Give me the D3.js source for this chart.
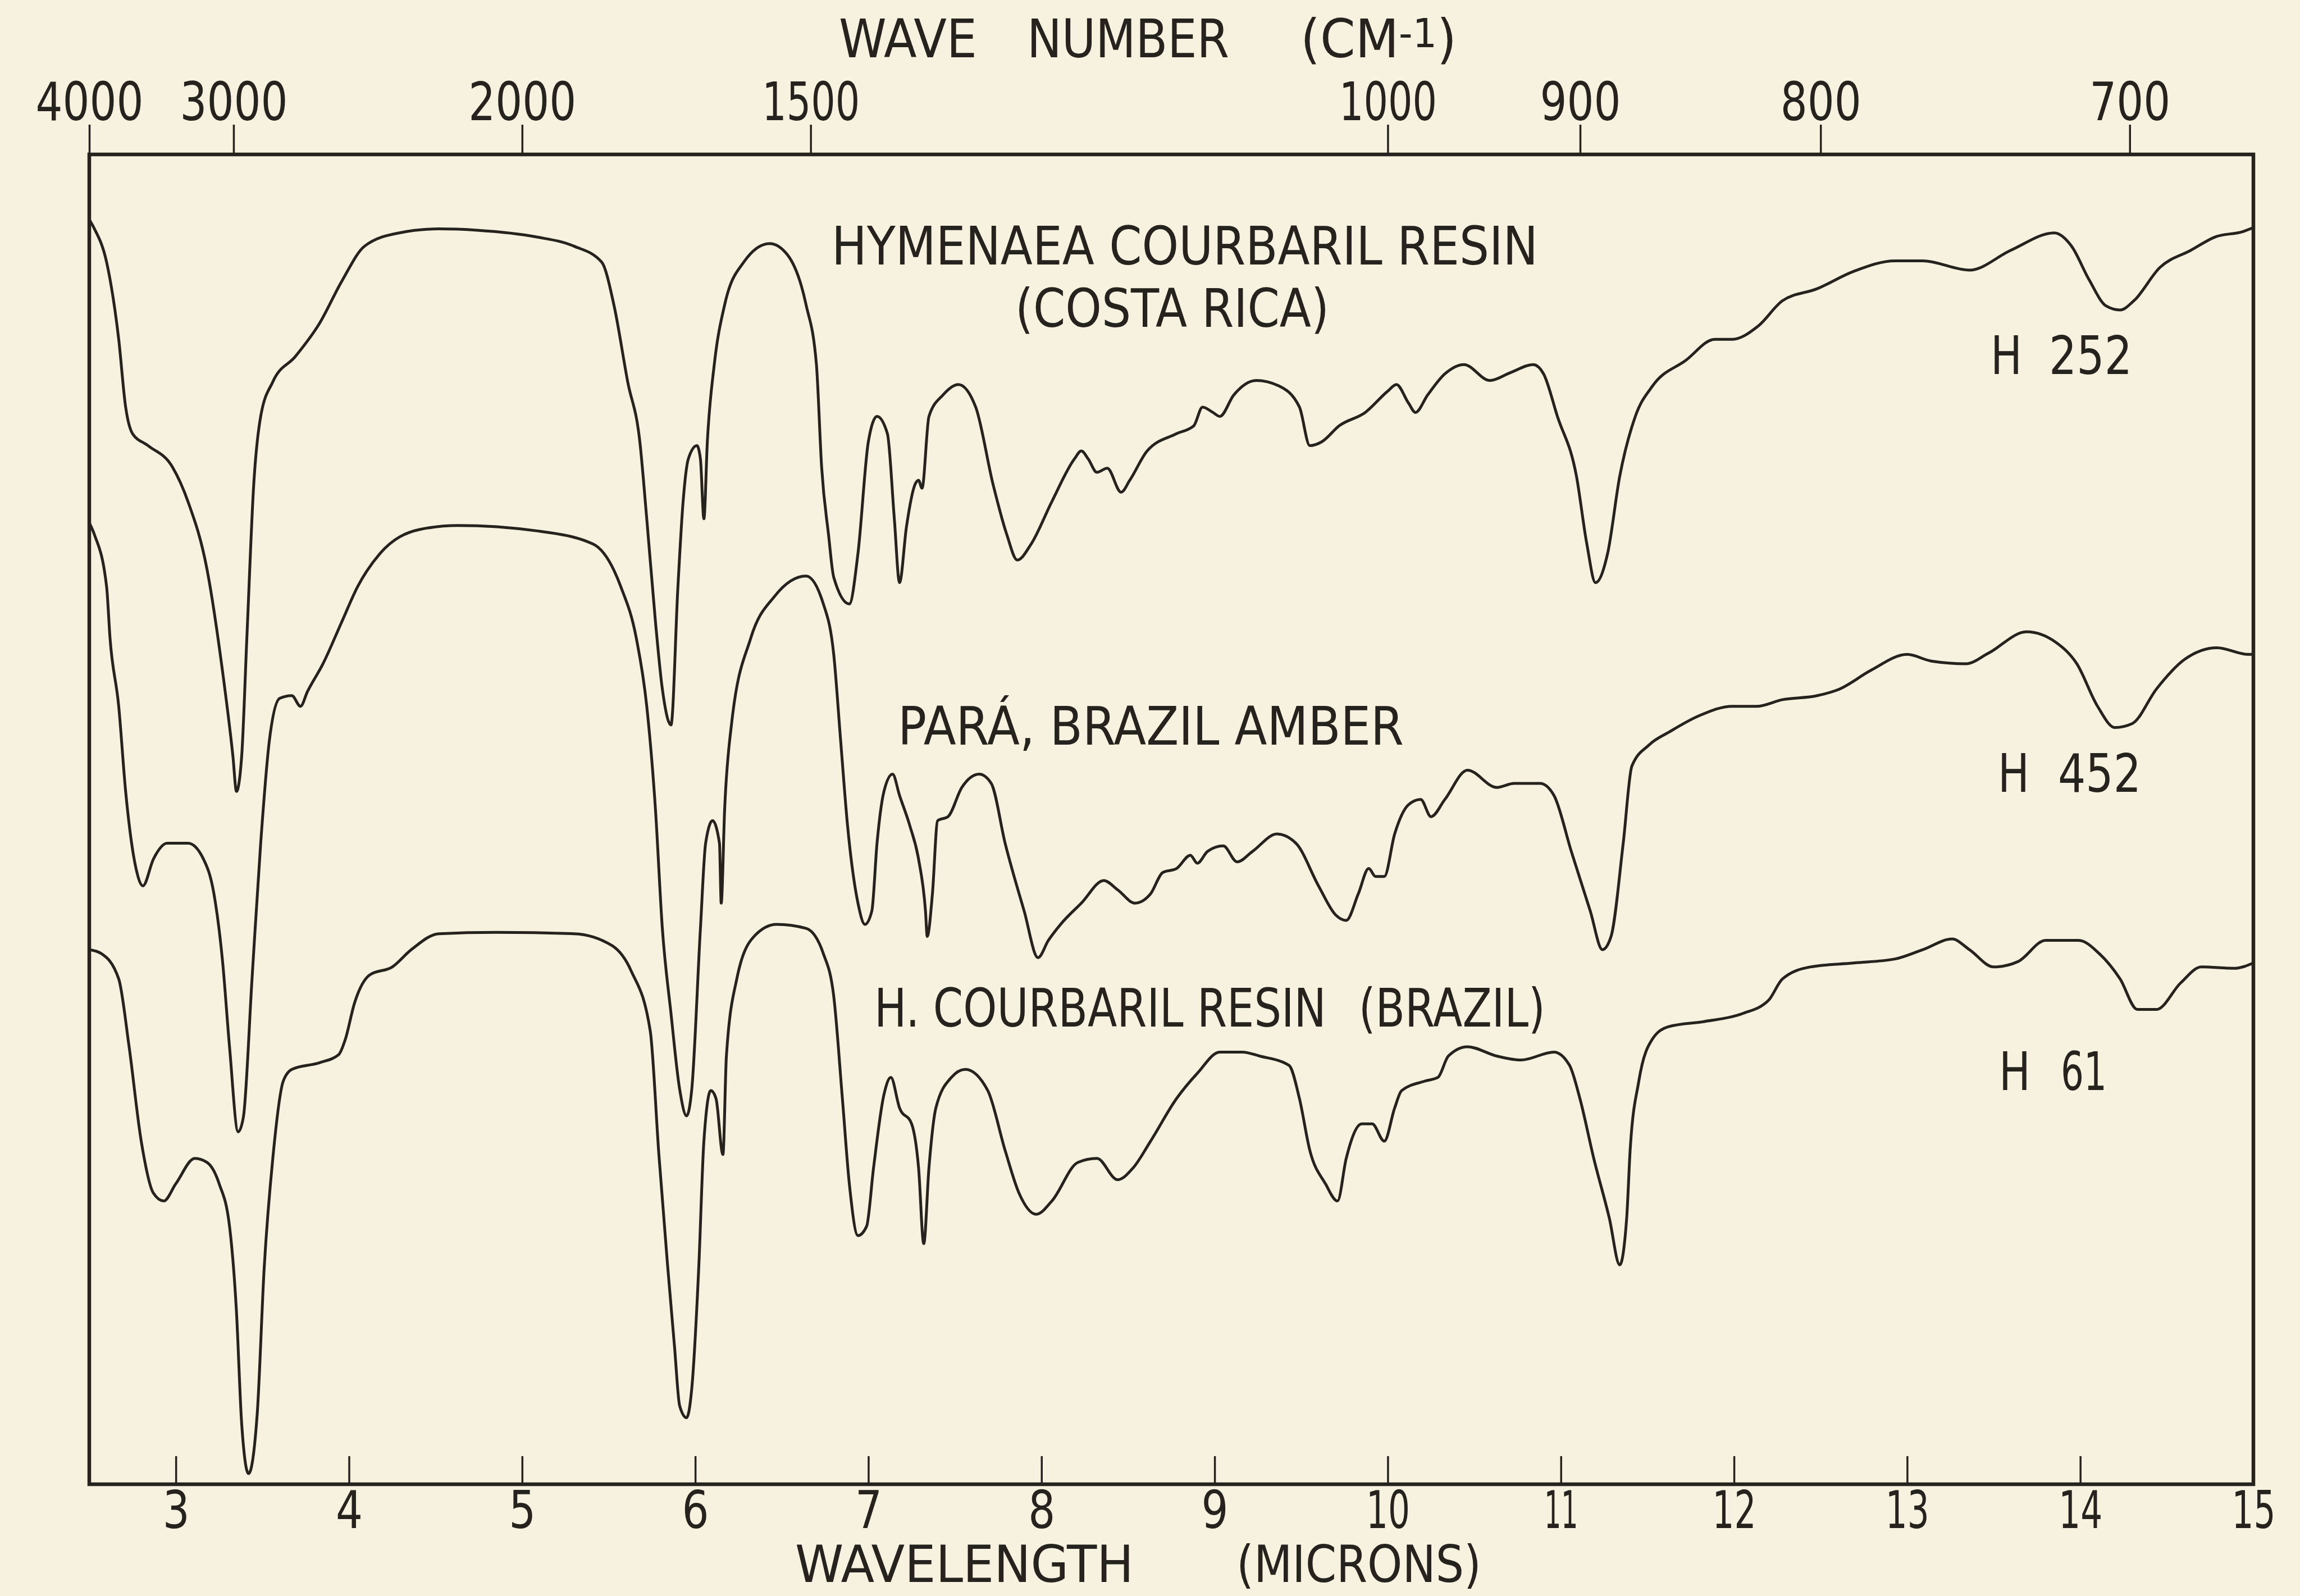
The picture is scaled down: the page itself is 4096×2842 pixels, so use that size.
<!DOCTYPE html>
<html>
<head>
<meta charset="utf-8">
<script src="https://cdn.jsdelivr.net/npm/d3@7"></script>
<style>
  html, body { margin: 0; padding: 0; background: #f6f2df; }
  svg { display: block; }
  text { font-family: "DejaVu Sans", sans-serif; fill: #26221e; }
</style>
</head>
<body>
<svg id="chart" width="4096" height="2842"></svg>
<script>
// tick values
const wavelengthTicks = [3, 4, 5, 6, 7, 8, 9, 10, 11, 12, 13, 14, 15];
const waveNumberTicks = [4000, 3000, 2000, 1500, 1000, 900, 800, 700];

// spectra: [wavelength (microns), transmittance (0 = bottom of frame, 100 = top)]
const h252 = [
  [2.50, 95.1], [2.53, 94.4], [2.60, 91.9], [2.67, 86.1], [2.71, 81.0], [2.75, 79.0], [2.84, 78.1], [2.98, 76.5],
  [3.07, 73.9], [3.18, 68.8], [3.27, 61.1], [3.33, 54.7], [3.35, 52.1], [3.38, 54.7], [3.41, 63.6], [3.45, 75.2],
  [3.49, 80.3], [3.56, 82.9], [3.69, 84.8], [3.83, 87.3], [3.96, 90.5], [4.09, 93.1], [4.29, 94.1], [4.52, 94.4],
  [4.74, 94.3], [5.08, 93.8], [5.30, 93.1], [5.46, 91.9], [5.53, 88.7], [5.61, 82.9], [5.68, 78.4], [5.72, 72.6],
  [5.77, 64.9], [5.81, 59.8], [5.86, 57.1], [5.90, 67.5], [5.93, 73.9], [5.96, 77.1], [6.01, 78.1], [6.03, 77.1],
  [6.05, 72.6], [6.07, 78.4], [6.11, 84.2], [6.17, 88.7], [6.28, 91.9], [6.43, 93.3], [6.53, 92.5], [6.64, 88.7],
  [6.70, 84.2], [6.73, 76.5], [6.77, 71.4], [6.80, 68.2], [6.89, 66.2], [6.94, 70.0], [7.00, 78.4], [7.05, 80.3],
  [7.11, 79.0], [7.15, 72.6], [7.18, 67.8], [7.22, 72.0], [7.27, 75.2], [7.29, 75.5], [7.31, 74.9], [7.35, 80.3],
  [7.43, 81.9], [7.52, 82.7], [7.62, 81.0], [7.72, 75.2], [7.80, 71.4], [7.86, 69.5], [7.94, 70.7], [8.06, 73.9],
  [8.19, 77.1], [8.23, 77.7], [8.27, 77.1], [8.32, 76.1], [8.38, 76.4], [8.46, 74.6], [8.51, 75.5], [8.61, 77.7],
  [8.78, 79.0], [8.88, 79.6], [8.93, 81.0], [8.99, 80.6], [9.03, 80.3], [9.11, 81.9], [9.24, 83.0], [9.37, 82.6],
  [9.49, 81.0], [9.55, 78.1], [9.62, 78.4], [9.72, 79.6], [9.87, 80.6], [10.00, 82.2], [10.05, 82.7], [10.12, 81.3],
  [10.16, 80.6], [10.23, 81.9], [10.33, 83.5], [10.44, 84.2], [10.59, 83.0], [10.71, 83.6], [10.84, 84.2], [10.90, 83.5],
  [10.98, 80.3], [11.09, 75.8], [11.15, 70.7], [11.20, 67.8], [11.27, 70.0], [11.34, 75.8], [11.43, 80.3], [11.53, 82.6],
  [11.72, 84.5], [11.89, 86.1], [11.99, 86.1], [12.14, 87.1], [12.28, 89.0], [12.48, 89.9], [12.69, 91.2], [12.93, 92.0],
  [13.09, 92.0], [13.36, 91.3], [13.60, 92.8], [13.85, 94.1], [13.95, 93.1], [14.05, 90.6], [14.15, 88.6], [14.23, 88.3],
  [14.31, 89.0], [14.46, 91.5], [14.64, 92.8], [14.78, 93.8], [14.94, 94.2], [15.00, 94.5]
];

const h452 = [
  [2.50, 72.3], [2.53, 71.4], [2.60, 67.5], [2.62, 63.6], [2.67, 58.5], [2.71, 52.1], [2.77, 46.3], [2.81, 45.0],
  [2.87, 47.0], [2.95, 48.2], [3.07, 48.2], [3.16, 47.0], [3.22, 44.4], [3.27, 39.3], [3.31, 32.9], [3.36, 26.5],
  [3.39, 27.6], [3.44, 38.0], [3.49, 48.2], [3.54, 55.9], [3.60, 59.1], [3.67, 59.3], [3.72, 58.5], [3.76, 59.6],
  [3.85, 61.7], [3.96, 64.9], [4.05, 67.5], [4.18, 70.0], [4.41, 71.8], [4.63, 72.1], [5.08, 71.7], [5.41, 70.7],
  [5.57, 67.5], [5.66, 63.6], [5.72, 58.5], [5.77, 50.8], [5.81, 41.8], [5.86, 35.4], [5.91, 29.7], [5.95, 27.7],
  [5.98, 29.7], [6.03, 41.8], [6.06, 48.2], [6.10, 49.9], [6.14, 48.2], [6.15, 43.7], [6.17, 50.8], [6.21, 57.2],
  [6.32, 63.6], [6.46, 66.8], [6.64, 68.3], [6.74, 66.2], [6.80, 62.4], [6.84, 55.9], [6.88, 49.5], [6.94, 43.7],
  [6.98, 42.1], [7.02, 43.1], [7.05, 48.2], [7.09, 52.1], [7.14, 53.4], [7.18, 51.8], [7.24, 49.5], [7.29, 47.0],
  [7.33, 43.1], [7.34, 41.2], [7.37, 44.4], [7.40, 49.9], [7.46, 50.2], [7.54, 52.4], [7.64, 53.4], [7.71, 52.7],
  [7.79, 48.2], [7.90, 43.1], [7.98, 39.6], [8.04, 40.9], [8.11, 42.1], [8.23, 43.7], [8.36, 45.4], [8.44, 44.7],
  [8.54, 43.7], [8.63, 44.4], [8.70, 46.0], [8.78, 46.3], [8.86, 47.3], [8.90, 46.7], [8.96, 47.6], [9.05, 48.0],
  [9.13, 46.8], [9.22, 47.6], [9.36, 48.9], [9.47, 48.2], [9.60, 45.0], [9.70, 42.8], [9.76, 42.4], [9.83, 44.4],
  [9.89, 46.3], [9.93, 45.7], [9.98, 45.7], [10.04, 48.9], [10.12, 51.1], [10.19, 51.5], [10.25, 50.2], [10.33, 51.5],
  [10.46, 53.7], [10.63, 52.4], [10.73, 52.7], [10.88, 52.7], [10.96, 51.8], [11.06, 47.6], [11.17, 43.1], [11.24, 40.2],
  [11.29, 41.2], [11.36, 48.2], [11.41, 54.0], [11.51, 55.6], [11.63, 56.6], [11.80, 57.8], [11.99, 58.5], [12.13, 58.5],
  [12.28, 59.0], [12.48, 59.3], [12.61, 59.8], [12.79, 61.2], [13.00, 62.4], [13.14, 61.9], [13.34, 61.7], [13.47, 62.5],
  [13.69, 64.1], [13.86, 63.3], [13.98, 61.7], [14.10, 58.5], [14.20, 56.9], [14.30, 57.2], [14.44, 59.8], [14.60, 62.0],
  [14.79, 62.9], [14.97, 62.4], [15.00, 62.4]
];

const h61 = [
  [2.50, 40.2], [2.57, 39.9], [2.67, 38.0], [2.73, 32.9], [2.80, 25.8], [2.87, 21.9], [2.93, 21.3], [3.00, 22.6],
  [3.11, 24.5], [3.18, 24.2], [3.25, 22.6], [3.31, 19.4], [3.35, 13.0], [3.38, 4.6], [3.42, 0.8], [3.47, 5.3],
  [3.51, 16.2], [3.56, 24.5], [3.62, 30.3], [3.67, 31.2], [3.83, 31.7], [3.94, 32.3], [3.98, 33.5], [4.03, 36.1],
  [4.12, 38.3], [4.25, 38.9], [4.36, 40.2], [4.52, 41.4], [4.85, 41.5], [5.30, 41.4], [5.52, 40.5], [5.63, 38.6],
  [5.74, 34.1], [5.79, 24.8], [5.84, 16.5], [5.88, 10.4], [5.91, 5.9], [5.95, 5.0], [5.98, 7.2], [6.02, 16.2],
  [6.05, 25.8], [6.09, 29.6], [6.12, 29.0], [6.16, 24.8], [6.18, 32.2], [6.24, 38.0], [6.34, 41.2], [6.47, 42.1],
  [6.64, 41.8], [6.74, 39.9], [6.80, 36.7], [6.85, 29.0], [6.89, 22.6], [6.94, 18.7], [6.99, 19.4], [7.03, 23.8],
  [7.09, 29.3], [7.13, 30.6], [7.18, 28.3], [7.25, 27.1], [7.29, 23.8], [7.32, 18.1], [7.35, 23.8], [7.39, 28.3],
  [7.48, 30.6], [7.56, 31.2], [7.69, 29.6], [7.79, 25.1], [7.87, 21.9], [7.97, 20.3], [8.06, 21.3], [8.21, 24.2],
  [8.32, 24.5], [8.44, 22.9], [8.53, 23.8], [8.63, 25.8], [8.78, 29.0], [8.90, 30.9], [9.03, 32.5], [9.16, 32.5],
  [9.26, 32.2], [9.43, 31.5], [9.49, 29.0], [9.55, 25.1], [9.64, 22.6], [9.71, 21.3], [9.76, 24.5], [9.85, 27.1],
  [9.91, 27.1], [9.98, 25.8], [10.04, 28.3], [10.08, 29.6], [10.21, 30.3], [10.29, 30.6], [10.35, 32.2], [10.46, 32.9],
  [10.63, 32.2], [10.77, 31.9], [10.96, 32.5], [11.05, 31.5], [11.11, 29.0], [11.19, 24.5], [11.28, 20.0], [11.34, 16.5],
  [11.38, 20.0], [11.40, 25.1], [11.45, 30.3], [11.53, 33.5], [11.62, 34.4], [11.83, 34.8], [12.05, 35.4], [12.20, 36.4],
  [12.28, 38.0], [12.44, 38.9], [12.69, 39.2], [12.93, 39.5], [13.09, 40.2], [13.26, 41.0], [13.36, 40.2], [13.50, 38.9],
  [13.64, 39.3], [13.80, 40.9], [13.99, 40.9], [14.11, 39.9], [14.23, 38.0], [14.33, 35.7], [14.44, 35.7], [14.58, 37.7],
  [14.70, 38.9], [14.89, 38.8], [15.00, 39.2]
];

const sampleCodes = ['252', '452', '61'];
const seriesList = [h252, h452, h61];

const W = 4096, H = 2842;
const margin = { top: 275, right: 83, bottom: 199, left: 159 };
const innerW = W - margin.left - margin.right;
const innerH = H - margin.top - margin.bottom;
const ink = '#26221e';
const fontSize = 95;

const svg = d3.select('#chart');
svg.append('rect').attr('width', W).attr('height', H).attr('fill', '#f6f2df');

const g = svg.append('g').attr('transform', `translate(${margin.left},${margin.top})`);

const x = d3.scaleLinear().domain([2.5, 15]).range([0, innerW]);
const y = d3.scaleLinear().domain([0, 100]).range([innerH, 0]);

// narrow figures: the "1" is much slimmer than the other digits
const digitWidth = s => String(s).split('').reduce((w, c) => w + (c === '1' ? 30 : 48), 0);

// bottom axis: ticks point into the frame
const bottomAxis = d3.axisBottom(x)
  .tickValues(wavelengthTicks)
  .tickFormat(d3.format('d'))
  .tickSizeInner(-50)
  .tickSizeOuter(0);

const gb = g.append('g')
  .attr('transform', `translate(0,${innerH})`)
  .call(bottomAxis);
gb.select('.domain').remove();
gb.selectAll('line').attr('stroke', ink).attr('stroke-width', 3.5);
gb.selectAll('text')
  .attr('y', 78).attr('dy', 0)
  .attr('fill', ink)
  .style('font-family', '"DejaVu Sans", sans-serif')
  .style('font-size', (fontSize - 3) + 'px')
  .attr('textLength', d => digitWidth(d))
  .attr('lengthAdjust', 'spacingAndGlyphs');

// top axis: wave number, placed at 10000 / cm-1 microns
const topAxis = d3.axisTop(x)
  .tickValues(waveNumberTicks.map(n => 1e4 / n))
  .tickFormat((d, i) => waveNumberTicks[i])
  .tickSizeInner(53)
  .tickSizeOuter(0);

const gt = g.append('g').call(topAxis);
gt.select('.domain').remove();
gt.selectAll('line').attr('stroke', ink).attr('stroke-width', 3.5);
gt.selectAll('text')
  .attr('y', -61).attr('dy', 0)
  .attr('fill', ink)
  .style('font-family', '"DejaVu Sans", sans-serif')
  .style('font-size', fontSize + 'px')
  .attr('textLength', (d, i) => digitWidth(waveNumberTicks[i]))
  .attr('lengthAdjust', 'spacingAndGlyphs');

// frame
g.append('rect')
  .attr('x', 0).attr('y', 0)
  .attr('width', innerW).attr('height', innerH)
  .attr('fill', 'none')
  .attr('stroke', ink)
  .attr('stroke-width', 6.5);

// spectra
const line = d3.line()
  .x(d => x(d[0]))
  .y(d => y(d[1]))
  .curve(d3.curveMonotoneX);

g.selectAll('.spectrum')
  .data(seriesList)
  .enter()
  .append('path')
  .attr('class', 'spectrum')
  .attr('d', line)
  .attr('fill', 'none')
  .attr('stroke', ink)
  .attr('stroke-width', 5)
  .attr('stroke-linejoin', 'round')
  .attr('stroke-linecap', 'round');

// labels: squeeze each one horizontally to the width it has in the figure
function label(x0, baseline, width, size, build) {
  const t = svg.append('text')
    .attr('x', 0).attr('y', 0)
    .style('font-size', (size || fontSize) + 'px');
  build(t);
  const natural = t.node().getBBox().width;
  const sx = width / natural;
  t.attr('transform', `translate(${x0},${baseline}) scale(${sx},1)`);
  return t;
}
const plain = txt => t => t.text(txt);

label(1494, 102, 246, fontSize, plain('WAVE'));
label(1829, 102, 360, fontSize, plain('NUMBER'));
label(2316, 102, 278, fontSize, t => {
  t.append('tspan').text('(CM');
  t.append('tspan').attr('dy', -18).style('font-size', '72px').text('-1');
  t.append('tspan').attr('dy', 18).text(')');
});

label(1416, 2817, 603, fontSize - 5, plain('WAVELENGTH'));
label(2202, 2817, 436, fontSize - 5, plain('(MICRONS)'));

label(1481, 471, 1258, fontSize, plain('HYMENAEA COURBARIL RESIN'));
label(1808, 582, 559, fontSize, plain('(COSTA RICA)'));
label(1599, 1326, 901, fontSize, plain('PARÁ, BRAZIL AMBER'));
label(1557, 1828, 1195, fontSize, t => {
  t.append('tspan').text('H. COURBARIL RESIN');
  t.append('tspan').attr('dx', 72).text('(BRAZIL)');
});

const codeBaselines = [666, 1410, 1941];
const codeH = [3545, 3558, 3560];
const codeNum = [3649, 3665, 3670];
sampleCodes.forEach((c, i) => {
  label(codeH[i], codeBaselines[i], 56, fontSize, plain('H'));
  label(codeNum[i], codeBaselines[i], digitWidth(c) + 4, fontSize, plain(c));
});
</script>
</body>
</html>
